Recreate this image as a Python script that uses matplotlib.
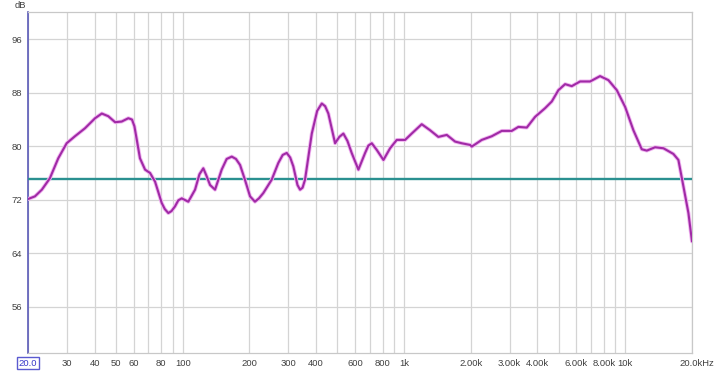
import matplotlib
matplotlib.use("Agg")
import matplotlib.pyplot as plt
import matplotlib.patheffects as pe

# Frequency response (Hz, dB)
freq_hz = [20, 21.5, 23.1, 25.1, 27.4, 29.9, 32.6, 36.2, 40.2, 43.1, 46.1,
           49.5, 53.0, 56.8, 59.0, 60.5, 62.0, 64.1, 67.6, 71.2, 75.0, 80.4,
           83.0, 86.1, 89.0, 92.3, 95.5, 99.0, 106, 113.7, 119, 123.9, 128,
           132.9, 140, 150, 158, 166.6, 174, 181.6, 191, 201.5, 212, 221,
           231.4, 252.4, 270.4, 283, 295.2, 306, 316, 330, 339, 348, 357, 383,
           405, 425, 440, 455, 488, 510, 532, 555, 580, 622, 667, 690, 715,
           753, 807, 865, 927, 1011, 1083, 1202, 1311, 1429, 1560, 1701, 1823,
           1988, 2023, 2244, 2491, 2764, 3067, 3285, 3586, 3909, 4338, 4650,
           4982, 5342, 5725, 6244, 6462, 6928, 7684, 8381, 9146, 9972, 10870,
           11860, 12500, 13620, 14860, 16480, 17360, 18290, 19270, 20000]
level_db = [72.1, 72.5, 73.5, 75.2, 78.2, 80.45, 81.5, 82.7, 84.2, 84.9, 84.5,
            83.6, 83.7, 84.2, 84.0, 83.0, 81.0, 78.2, 76.5, 76.0, 74.7, 71.5,
            70.6, 70.0, 70.3, 71.0, 71.9, 72.2, 71.7, 73.5, 75.8, 76.7, 75.6,
            74.2, 73.5, 76.5, 78.1, 78.45, 78.1, 77.2, 75.0, 72.5, 71.7, 72.2,
            73.0, 75.0, 77.5, 78.7, 79.0, 78.3, 77.0, 74.2, 73.5, 73.8, 75.0,
            81.9, 85.3, 86.4, 86.0, 84.9, 80.45, 81.4, 81.9, 80.8, 79.0, 76.5,
            79.0, 80.1, 80.45, 79.45, 77.95, 79.7, 80.95, 80.95, 81.9, 83.3,
            82.4, 81.4, 81.7, 80.7, 80.45, 80.2, 79.95, 80.95, 81.5, 82.3,
            82.3, 82.9, 82.8, 84.4, 85.7, 86.7, 88.4, 89.3, 89.0, 89.7, 89.7,
            89.7, 90.5, 89.9, 88.4, 85.9, 82.4, 79.55, 79.35, 79.85, 79.7,
            78.85, 77.95, 74.0, 70.0, 65.75]
target_db = 75.1

y_ticks = [56, 64, 72, 80, 88, 96]
x_ticks = [20, 30, 40, 50, 60, 80, 100, 200, 300, 400, 600, 800, 1000,
           2000, 3000, 4000, 6000, 8000, 10000, 20000]
x_labels = ["20.0", "30", "40", "50", "60", "80", "100", "200", "300", "400",
            "600", "800", "1k", "2.00k", "3.00k", "4.00k", "6.00k", "8.00k",
            "10k", ""]

plt.rcParams["font.family"] = ["Liberation Sans", "DejaVu Sans"]

fig = plt.figure(figsize=(7.2, 3.71), dpi=100)
ax = fig.add_axes([28 / 720, 1 - 353 / 371, 664 / 720, 341 / 371])

ax.set_xscale("log")
ax.set_xlim(20, 20000)
ax.set_ylim(49.05, 100.1)

# grid: every 1..9 x decade vertically, every 8 dB horizontally
minor = [m * 10 ** d for d in range(1, 5) for m in range(1, 10)]
minor = [v for v in minor if 20 <= v <= 20000]
ax.set_xticks(minor, minor=True)
ax.set_xticks(x_ticks)
ax.set_xticklabels(x_labels)
ax.set_yticks(y_ticks)
ax.grid(True, which="both", axis="x", color="#d4d4d4", linewidth=0.9)
ax.grid(True, which="major", axis="y", color="#d4d4d4", linewidth=0.9)
ax.set_axisbelow(True)
ax.tick_params(which="both", length=0, labelsize=6.8, colors="#404040", pad=4)

for side in ["top", "right", "bottom"]:
    ax.spines[side].set_color("#c8c8c8")
    ax.spines[side].set_linewidth(0.9)
ax.spines["left"].set_color("#5a5ab8")
ax.spines["left"].set_linewidth(1.2)

ax.axhline(target_db, color="#2a9090", linewidth=1.7, zorder=3)
ax.plot(freq_hz, level_db, color="#a02aa6", linewidth=1.5, zorder=4,
        solid_joinstyle="round", solid_capstyle="round",
        path_effects=[pe.Stroke(linewidth=2.8, foreground="#f0b4f0"), pe.Normal()])

# boxed first label
lbl0 = ax.get_xticklabels()[0]
lbl0.set_color("#3838c8")
lbl0.set_bbox(dict(boxstyle="square,pad=0.15", fc="white", ec="#5a5ad0", lw=1))

ax.annotate("20.0kHz", xy=(20000, 0), xycoords=("data", "axes fraction"),
            xytext=(-9, -4), textcoords="offset points", ha="left", va="top",
            fontsize=6.8, color="#404040")

fig.text(20 / 720, 1 - 6 / 371, "dB", ha="center", va="center",
         fontsize=6.8, color="#404040")

fig.savefig("out.png", dpi=100)
